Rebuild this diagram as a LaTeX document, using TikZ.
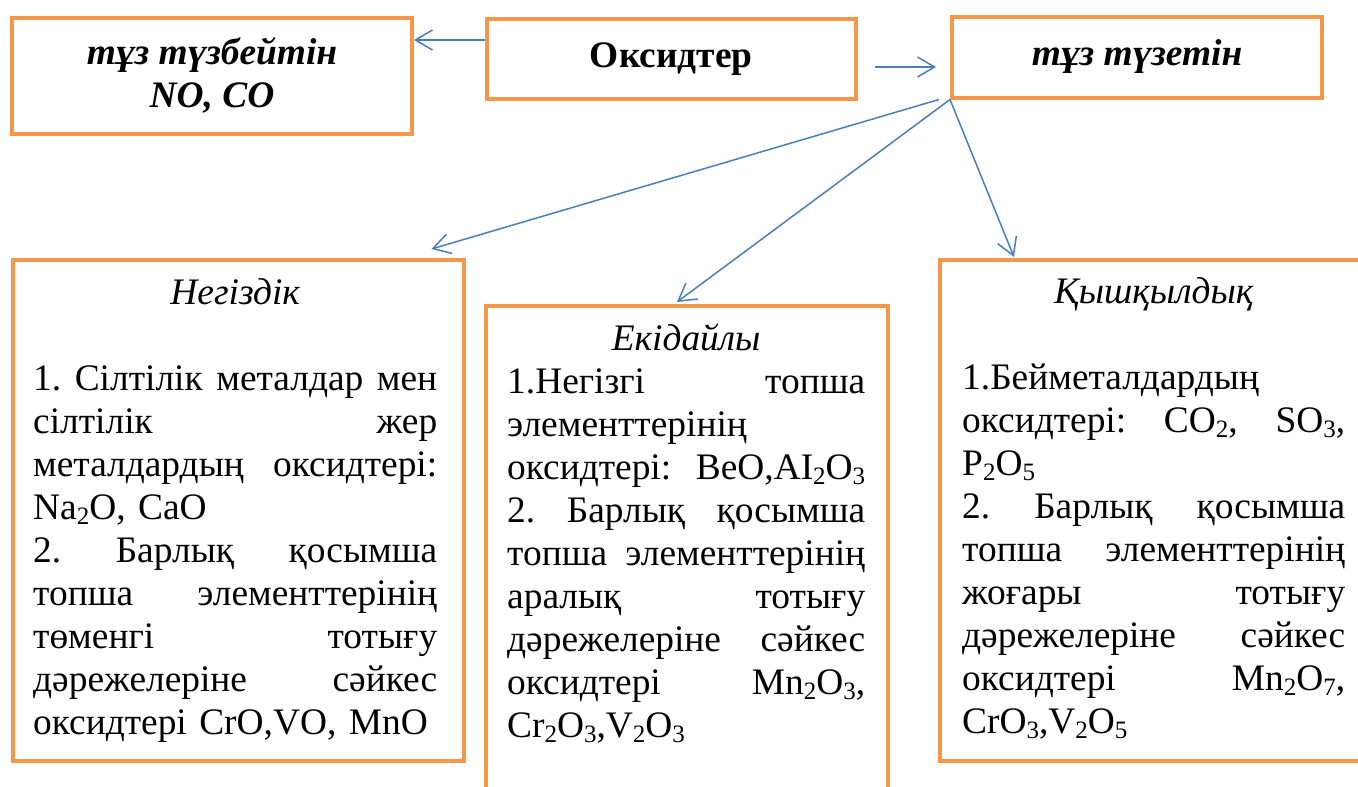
\documentclass[tikz,border=0pt]{standalone}
\usepackage{fontspec}
\setmainfont{Liberation Serif}
\usetikzlibrary{arrows.meta,positioning}
\definecolor{orng}{RGB}{247,150,70}
\definecolor{blu}{RGB}{74,126,187}
\frenchspacing
\newcommand{\chemsub}[1]{\raisebox{-.14em}{\fontsize{25}{25}\selectfont #1}}
\newcommand{\jline}[1]{\hbox to\linewidth{\spaceskip=.25em plus 1fil\relax #1}\par}
\newcommand{\rline}[1]{\hbox{#1}\par}
\newcommand{\tline}[1]{\hbox to\linewidth{\hfil\itshape #1\hfil}\par}

\begin{document}
\begin{tikzpicture}[x=1pt,y=-1pt]
  \tikzset{
    obox/.style={draw=orng, line width=4pt, rectangle, anchor=north west, inner sep=0pt},
    head/.style={font=\fontsize{37.4}{43}\selectfont\bfseries, align=center},
    headit/.style={head, font=\fontsize{37.4}{43}\selectfont\bfseries\itshape},
    body/.style={anchor=base west, inner sep=0pt, font=\fontsize{37.4}{43}\selectfont},
    arr/.style={draw=blu, line width=1.5pt, -{Straight Barb[length=17pt,width=20pt]}},
  }
  \useasboundingbox (0,0) rectangle (1358,787);

  % top row
  \node[obox, headit, minimum width=400pt, minimum height=115.5pt] (nosalt) at (10,16) {тұз түзбейтін\\NO, CO};
  \node[obox, head, minimum width=369.5pt, minimum height=80pt] (ox) at (484.5,17) {Оксидтер};
  \node[obox, headit, minimum width=370pt, minimum height=81pt] (salt) at (950,14.5) {тұз түзетін};

  % bottom row (frames)
  \node[obox, minimum width=451pt, minimum height=500.5pt] (basic) at (10.5,258) {};
  \node[obox, minimum width=402pt, minimum height=500pt] (amph) at (484,304) {};
  \node[obox, minimum width=436pt, minimum height=501pt] (acid) at (938,258) {};

  % bottom row (texts)
  \node[body, text width=404pt] (basictext) at (33,304.5) {%
    \tline{Негіздік}\vskip43pt
    \jline{1. Сілтілік металдар мен}
    \jline{сілтілік жер}
    \jline{металдардың оксидтері:}
    \rline{Na\chemsub{2}O, CaO}
    \jline{2. Барлық қосымша}
    \jline{топша элементтерінің}
    \jline{төменгі тотығу}
    \jline{дәрежелеріне сәйкес}
    \rline{оксидтері CrO,VO, MnO}};
  \node[body, text width=358pt] (amphtext) at (507,350) {%
    \tline{Екідайлы}
    \jline{1.Негізгі топша}
    \rline{элементтерінің}
    \jline{оксидтері: BeO,AI\chemsub{2}O\chemsub{3}}
    \jline{2. Барлық қосымша}
    \jline{топша элементтерінің}
    \jline{аралық тотығу}
    \jline{дәрежелеріне сәйкес}
    \jline{оксидтері Mn\chemsub{2}O\chemsub{3},}
    \rline{Cr\chemsub{2}O\chemsub{3},V\chemsub{2}O\chemsub{3}}};
  \node[body, text width=383pt] (acidtext) at (962,303) {%
    \tline{Қышқылдық}\vskip43pt
    \rline{1.Бейметалдардың}
    \jline{оксидтері: CO\chemsub{2}, SO\chemsub{3},}
    \rline{P\chemsub{2}O\chemsub{5}}
    \jline{2. Барлық қосымша}
    \jline{топша элементтерінің}
    \jline{жоғары тотығу}
    \jline{дәрежелеріне сәйкес}
    \jline{оксидтері Mn\chemsub{2}O\chemsub{7},}
    \rline{CrO\chemsub{3},V\chemsub{2}O\chemsub{5}}};

  % arrows
  \coordinate (oxw) at ([yshift=19pt]ox.west);
  \coordinate (oxe) at ([yshift=-8pt]ox.east);
  \draw[arr] (oxw) -- (oxw -| nosalt.east);
  \draw[arr, shorten <=17pt, shorten >=14pt] (oxe) -- (oxe -| salt.west);
  \draw[arr] ([xshift=-11pt]salt.south west) -- ([xshift=-34pt,yshift=9pt]basic.north east);
  \draw[arr] (salt.south west) -- ([xshift=-10pt,yshift=2pt]amph.north);
  \draw[arr] (salt.south west) -- ([xshift=76pt,yshift=1pt]acid.north west);
\end{tikzpicture}
\end{document}
